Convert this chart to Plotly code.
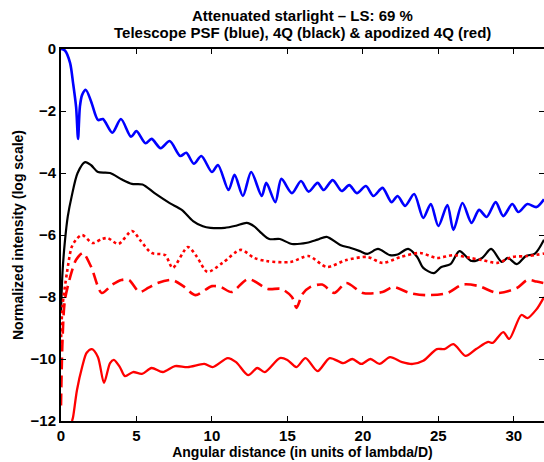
import plotly.graph_objects as go

# ---- data (x in lambda/D, y in log10 normalized intensity) ----
blue_x = [0, 0.26, 0.6, 0.8, 1.0, 1.13, 1.25, 1.4, 1.65, 2.0, 2.45, 2.78, 3.4, 3.97, 4.64, 5.0, 5.6, 6.0, 6.6, 7.2,
          7.9, 8.3, 8.8, 9.3, 10.0, 10.4, 11.1, 11.5, 12.05, 12.6, 13.3, 13.6, 14.2, 14.6, 15.3, 15.9, 16.4, 17.0,
          17.4, 18.0, 18.6, 19.1, 19.6, 20.2, 20.7, 21.3, 21.9, 22.3, 22.8, 23.4, 24.0, 24.5, 25.0, 25.6, 26.0,
          26.6, 27.2, 27.7, 28.2, 28.8, 29.3, 29.9, 30.3, 30.9, 31.5, 32]
blue_y = [0, -0.05, -0.45, -1.1, -1.87, -2.9, -1.87, -1.48, -1.32, -1.7, -2.29, -2.26, -2.7, -2.26, -2.83, -2.65,
          -3.04, -2.9, -3.2, -2.97, -3.45, -3.35, -3.7, -3.45, -3.97, -3.74, -4.55, -4.06, -4.74, -3.97, -4.74,
          -4.32, -4.94, -4.19, -4.65, -4.26, -4.6, -4.32, -4.55, -4.23, -4.58, -4.39, -4.65, -4.42, -4.74, -4.48,
          -4.94, -4.74, -5.06, -4.68, -5.45, -5.0, -5.71, -5.03, -5.84, -4.97, -5.61, -5.19, -5.42, -4.94, -5.39,
          -5.0, -5.26, -5.0, -5.1, -4.85]

black_x = [0, 0.1, 0.26, 0.45, 0.7, 1.1, 1.6, 2.0, 2.45, 3.25, 4.0, 4.7, 5.4, 6.2, 7.2, 8.0, 8.75, 9.4, 9.9, 10.85,
           11.6, 12.3, 12.8, 13.3, 13.8, 14.5, 15.3, 16.3, 17.0, 17.6, 18.5, 19.2, 19.8, 20.3, 21.0, 21.8, 22.3,
           23.0, 23.6, 24.0, 24.7, 25.2, 25.8, 26.4, 27.2, 27.9, 28.5, 29.2, 29.6, 30.2, 30.8, 31.4, 32]
black_y = [-8.5, -7.2, -6.2, -5.4, -4.77, -4.0, -3.65, -3.75, -3.97, -4.0, -4.2, -4.35, -4.37, -4.65, -4.97, -5.19,
           -5.55, -5.72, -5.77, -5.77, -5.7, -5.61, -5.72, -5.95, -6.13, -6.13, -6.29, -6.25, -6.15, -6.06, -6.32,
           -6.42, -6.52, -6.61, -6.45, -6.65, -6.63, -6.45, -6.71, -7.06, -7.23, -7.03, -6.94, -6.52, -6.84, -6.74,
           -6.45, -6.87, -6.74, -6.94, -6.68, -6.6, -6.15]

dot_x = [0, 0.1, 0.4, 0.7, 1.0, 1.4, 2.1, 2.7, 3.1, 3.8, 4.7, 5.3, 6.0, 6.9, 7.4, 8.4, 9.0, 9.7, 10.7, 11.9, 12.8,
         13.6, 15.2, 16.4, 17.6, 18.9, 20.3, 21.3, 22.5, 23.8, 24.9, 26.0, 27.1, 27.9, 28.9, 29.9, 30.9, 32]
dot_y = [-9.5, -8.3, -7.2, -6.4, -6.15, -6.0, -6.26, -6.13, -6.1, -6.29, -5.87, -6.2, -6.58, -6.65, -7.06, -6.39,
         -6.7, -7.19, -6.9, -6.48, -6.74, -6.84, -6.87, -6.68, -7.03, -6.81, -6.71, -6.9, -6.71, -6.58, -6.74,
         -6.65, -6.74, -6.81, -6.9, -6.71, -6.68, -6.6]

dash_x = [0, 0.1, 0.26, 0.7, 1.0, 1.45, 2.0, 2.7, 3.4, 4.0, 4.5, 5.2, 5.8, 6.4, 7.35, 8.1, 8.9, 10.0, 10.6, 11.3,
          12.4, 13.7, 14.6, 15.3, 15.6, 16.0, 16.5, 17.3, 18.1, 18.9, 20.0, 21.3, 22.0, 23.1, 24.2, 25.6, 26.6,
          27.7, 28.9, 30.2, 30.9, 31.5, 32]
dash_y = [-11.5, -9.4, -8.1, -7.2, -6.8, -6.58, -7.03, -7.87, -7.6, -7.45, -7.45, -7.84, -7.7, -7.55, -7.45, -7.65,
          -7.94, -7.65, -7.68, -7.84, -7.42, -7.74, -7.74, -8.0, -8.35, -7.9, -7.68, -7.6, -7.87, -7.55, -7.87,
          -7.84, -7.68, -7.87, -7.94, -7.87, -7.6, -7.65, -7.87, -7.71, -7.45, -7.5, -7.55]

red_x = [0.73, 0.8, 1.06, 1.4, 1.7, 2.05, 2.45, 2.85, 3.25, 3.5, 3.9, 4.24, 4.77, 5.36, 6.0, 6.75, 7.55, 8.4, 9.5,
         10.05, 11.05, 11.6, 12.4, 13.0, 13.5, 14.5, 15.0, 15.6, 16.2, 17.0, 17.8, 18.7, 19.3, 19.9, 20.5, 21.1,
         21.8, 22.6, 23.3, 24.0, 24.9, 25.4, 26.0, 26.8, 27.5, 28.3, 28.6, 29.3, 29.7, 30.5, 30.9, 31.5, 32]
red_y = [-12, -11.87, -11.0, -10.26, -9.8, -9.68, -9.94, -10.77, -10.13, -10.03, -10.26, -10.55, -10.42, -10.48,
         -10.29, -10.42, -10.23, -10.26, -10.16, -10.26, -9.97, -10.1, -10.52, -10.29, -10.42, -9.97, -10.03,
         -10.26, -9.97, -10.39, -9.97, -10.13, -10.0, -10.16, -10.0, -10.16, -9.94, -10.1, -10.16, -10.06, -9.68,
         -9.68, -9.52, -9.9, -9.68, -9.45, -9.48, -9.13, -9.35, -8.58, -8.68, -8.4, -8.0]

x_ticks = [0, 5, 10, 15, 20, 25, 30]
y_ticks = [0, -2, -4, -6, -8, -10, -12]
title_lines = ["Attenuated starlight – LS: 69 %",
               "Telescope PSF (blue), 4Q (black) & apodized 4Q (red)"]

FONT = "Liberation Sans, Arial, sans-serif"

fig = go.Figure()
series = [
    (blue_x, blue_y, "#0000ff", 2.6, "solid"),
    (black_x, black_y, "#000000", 2.2, "solid"),
    (dot_x, dot_y, "#ff0000", 2.6, "dot"),
    (dash_x, dash_y, "#ff0000", 2.6, "12px,6px"),
    (red_x, red_y, "#ff0000", 2.3, "solid"),
]
for xs, ys, col, w, d in series:
    assert len(xs) == len(ys)
    fig.add_trace(go.Scatter(x=xs, y=ys, mode="lines",
                             line=dict(color=col, width=w, dash=d, shape="spline", smoothing=0.8),
                             showlegend=False, cliponaxis=True))

fig.update_layout(
    width=544, height=462,
    margin=dict(l=61, r=0, t=49, b=41),
    paper_bgcolor="white", plot_bgcolor="white",
    font=dict(family=FONT, size=14, color="black"),
)
# two-line title placed as paper annotations (line centres at ~15 px and ~32 px from top)
plot_h = 462 - 49 - 41
for line, ypx in zip(title_lines, [15, 32]):
    fig.add_annotation(text=f"<b>{line}</b>", xref="paper", yref="paper", x=0.5, xanchor="center",
                       y=(462 - 41 - ypx) / plot_h, yanchor="middle", showarrow=False,
                       font=dict(family=FONT, size=15, color="black"))

axis_common = dict(showgrid=False, zeroline=False, showline=True, linecolor="black", linewidth=2,
                   mirror="ticks", ticks="inside", ticklen=5, tickwidth=1, tickcolor="black",
                   tickfont=dict(family=FONT, size=15, color="black"), automargin=False)
fig.update_xaxes(range=[0, 32], tickvals=x_ticks, ticktext=[f"<b>{v}</b>" for v in x_ticks],
                 title=dict(text="<b>Angular distance (in units of lambda/D)</b>", standoff=0,
                            font=dict(family=FONT, size=14)), **axis_common)
fig.update_yaxes(range=[-12, 0], tickvals=y_ticks,
                 ticktext=[f"<b>{'−' if v < 0 else ''}{abs(v)}</b>" for v in y_ticks],
                 title=dict(text="<b>Normalized intensity (log scale)</b>", standoff=4,
                            font=dict(family=FONT, size=14)), **axis_common)

fig.write_html("out.html")
